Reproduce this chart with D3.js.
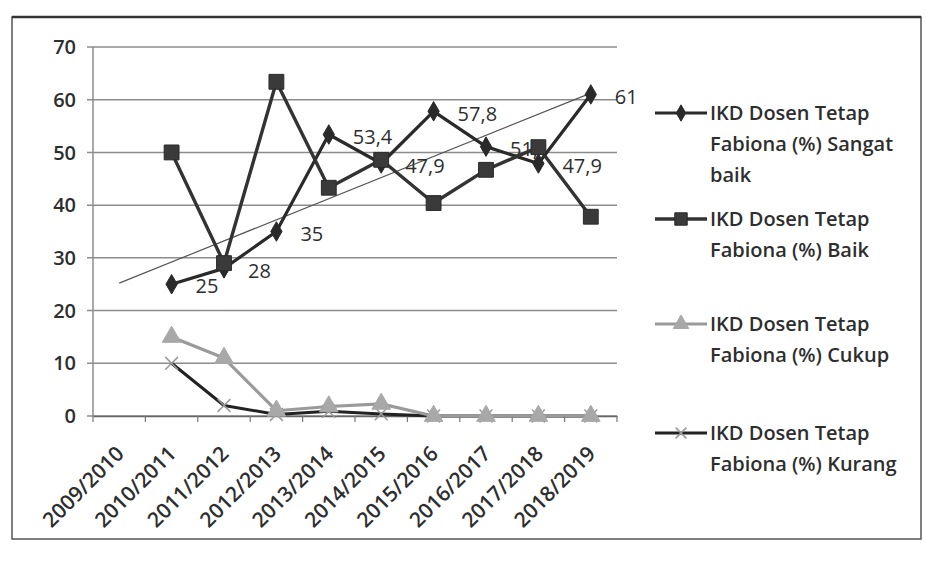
<!DOCTYPE html>
<html>
<head>
<meta charset="utf-8">
<script src="https://cdn.jsdelivr.net/npm/d3@7"></script>
<style>
  body { margin: 0; background: #fff; }
  text { font-family: "Open Sans", sans-serif; fill: #2e2e2e; font-weight: 600; }
</style>
</head>
<body>
<svg id="chart" width="926" height="569"></svg>
<script>
const categories = ['2009/2010', '2010/2011', '2011/2012', '2012/2013', '2013/2014',
  '2014/2015', '2015/2016', '2016/2017', '2017/2018', '2018/2019'];
// values start at 2010/2011
const dataYears = categories.slice(1);
const sangatBaik = [25, 28, 35, 53.4, 47.9, 57.8, 51.1, 47.9, 61];
const sangatBaikLabels = ['25', '28', '35', '53,4', '47,9', '57,8', '51,1', '47,9', '61'];
const baik = [50, 29, 63.4, 43.3, 48.6, 40.4, 46.7, 51, 37.8];
const cukup = [15, 11, 1, 1.8, 2.3, 0, 0, 0, 0];
const kurang = [10, 2, 0.3, 0.9, 0.4, 0, 0, 0, 0];
const yTicks = [0, 10, 20, 30, 40, 50, 60, 70];
const legendNames = [
  ['IKD Dosen Tetap', 'Fabiona (%) Sangat', 'baik'],
  ['IKD Dosen Tetap', 'Fabiona (%) Baik'],
  ['IKD Dosen Tetap', 'Fabiona (%) Cukup'],
  ['IKD Dosen Tetap', 'Fabiona (%) Kurang']
];

const svg = d3.select('#chart');

svg.append('rect')
  .attr('x', 12).attr('y', 17).attr('width', 909).attr('height', 522)
  .attr('fill', '#fff').attr('stroke', '#555').attr('stroke-width', 1.5);
svg.append('line')
  .attr('x1', 12).attr('x2', 921).attr('y1', 17).attr('y2', 17)
  .attr('stroke', '#333').attr('stroke-width', 2.5);

const x = d3.scaleBand().domain(categories).range([93, 617]);
const cx = d => x(d) + x.bandwidth() / 2;
const y = d3.scaleLinear().domain([0, 70]).range([416, 47]);

// gridlines + y labels
svg.append('g').selectAll('line')
  .data(yTicks)
  .enter().append('line')
  .attr('x1', 87).attr('x2', 617)
  .attr('y1', d => y(d)).attr('y2', d => y(d))
  .attr('stroke', '#8c8c8c').attr('stroke-width', 1.5);

svg.append('g').selectAll('text')
  .data(yTicks)
  .enter().append('text')
  .attr('x', 76).attr('y', d => y(d))
  .attr('dy', '0.36em')
  .attr('text-anchor', 'end')
  .style('font-size', '20px')
  .text(d => d);

// axes lines
svg.append('line')
  .attr('x1', 93).attr('x2', 93).attr('y1', y(70)).attr('y2', y(0))
  .attr('stroke', '#8c8c8c').attr('stroke-width', 1.5);

const xAxis = d3.axisBottom(x).tickSize(0).tickFormat('');
const gx = svg.append('g').attr('transform', `translate(0,${y(0)})`).call(xAxis);
gx.select('.domain').attr('stroke', '#666').attr('stroke-width', 1.5);
gx.selectAll('.bound')
  .data(d3.range(categories.length + 1))
  .enter().append('line')
  .attr('x1', i => 93 + i * x.step()).attr('x2', i => 93 + i * x.step())
  .attr('y1', 0).attr('y2', 6)
  .attr('stroke', '#777').attr('stroke-width', 1.2);

svg.append('g').selectAll('text')
  .data(categories)
  .enter().append('text')
  .attr('transform', d => `translate(${cx(d) + 6},${y(0) + 39}) rotate(-45)`)
  .attr('text-anchor', 'end')
  .style('font-size', '21px')
  .text(d => d);

// trendline for Sangat baik (linear, one period back)
const xs = dataYears.map((d, i) => i + 1);
const mx = d3.mean(xs), my = d3.mean(sangatBaik);
const slope = d3.sum(xs, (v, i) => (v - mx) * (sangatBaik[i] - my)) / d3.sum(xs, v => (v - mx) ** 2);
const icpt = my - slope * mx;
svg.append('line')
  .attr('x1', cx(categories[0])).attr('y1', y(icpt))
  .attr('x2', cx(categories[9])).attr('y2', y(icpt + slope * 9))
  .attr('stroke', '#555').attr('stroke-width', 1.2);

// data labels for Sangat baik
svg.append('g').selectAll('text')
  .data(sangatBaikLabels)
  .enter().append('text')
  .attr('x', (d, i) => cx(dataYears[i]) + 24)
  .attr('y', (d, i) => y(sangatBaik[i]) + 2)
  .attr('dy', '0.36em')
  .style('font-size', '20px')
  .style('font-weight', 400)
  .text(d => d);

const line = d3.line().x((d, i) => cx(dataYears[i])).y(d => y(d));

const series = [
  { values: kurang, color: '#222', width: 3, symbol: d3.symbolX, size: 110, mfill: 'none', mstroke: '#999' },
  { values: cukup, color: '#9a9a9a', width: 3.2, symbol: d3.symbolTriangle, size: 150, mfill: '#a8a8a8', mstroke: '#a8a8a8' },
  { values: sangatBaik, color: '#2a2a2a', width: 3.2, symbol: d3.symbolDiamond, size: 110, mfill: '#2a2a2a', mstroke: '#2a2a2a' },
  { values: baik, color: '#333', width: 3.4, symbol: d3.symbolSquare, size: 220, mfill: '#3a3a3a', mstroke: '#2a2a2a' }
];

series.forEach(s => {
  svg.append('path')
    .attr('d', line(s.values))
    .attr('fill', 'none')
    .attr('stroke', s.color)
    .attr('stroke-width', s.width)
    .attr('stroke-linejoin', 'round');
  svg.append('g').selectAll('path')
    .data(s.values)
    .enter().append('path')
    .attr('transform', (d, i) => `translate(${cx(dataYears[i])},${y(d)})`)
    .attr('d', d3.symbol().type(s.symbol).size(s.size))
    .attr('fill', s.mfill)
    .attr('stroke', s.mstroke)
    .attr('stroke-width', s.symbol === d3.symbolX ? 1.5 : 1);
});

// legend
const legendSeries = [series[2], series[3], series[1], series[0]];
const legendY = [113, 219, 324, 433];
const legend = svg.append('g');
legendSeries.forEach((s, k) => {
  const ly = legendY[k];
  legend.append('line')
    .attr('x1', 655).attr('x2', 707).attr('y1', ly).attr('y2', ly)
    .attr('stroke', s.color).attr('stroke-width', s.width);
  legend.append('path')
    .attr('transform', `translate(681,${ly})`)
    .attr('d', d3.symbol().type(s.symbol).size(s.size * 0.7))
    .attr('fill', s.mfill).attr('stroke', s.mstroke)
    .attr('stroke-width', s.symbol === d3.symbolX ? 1.5 : 1);
  legend.append('text')
    .attr('x', 710).attr('y', ly)
    .style('font-size', '20px')
    .selectAll('tspan')
    .data(legendNames[k])
    .enter().append('tspan')
    .attr('x', 710)
    .attr('dy', (d, i) => i === 0 ? '0.36em' : '31px')
    .text(d => d);
});
</script>
</body>
</html>
